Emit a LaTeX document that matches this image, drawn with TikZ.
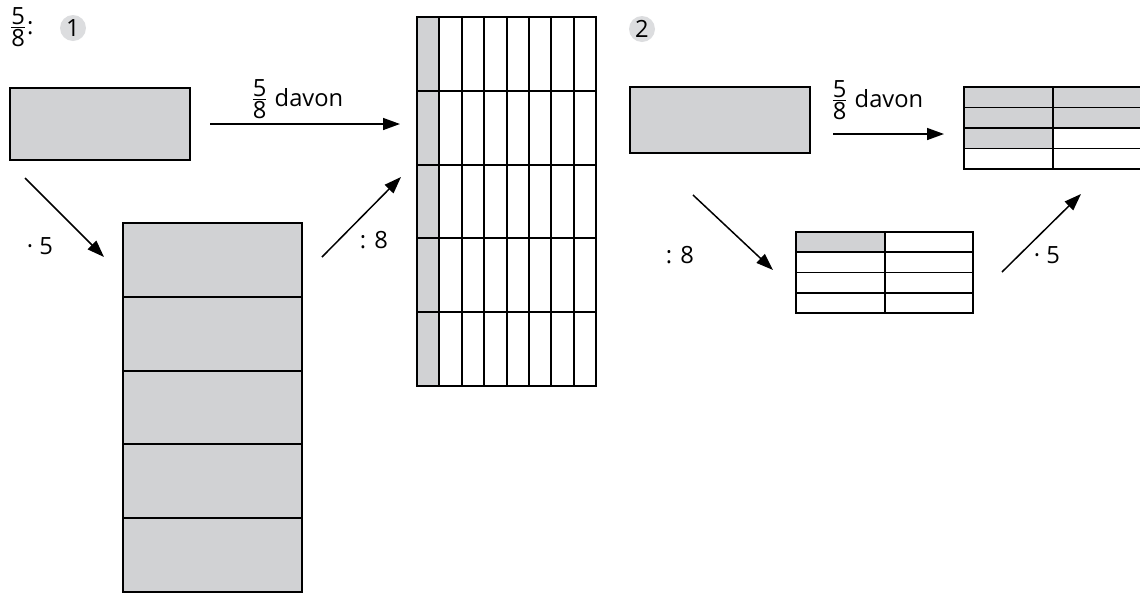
\documentclass[tikz,border=0pt,12pt]{standalone}
\usepackage{amsmath}
\usepackage{fontspec}
\setmainfont{Open Sans}
\usetikzlibrary{arrows.meta}
\definecolor{boxgrey}{HTML}{D1D2D4}
\definecolor{numgrey}{HTML}{DCDDDF}
% fraction with full-size digits
\newcommand{\frc}[2]{\ensuremath{\genfrac{}{}{0.5pt}{1}{\hbox{#1}}{\hbox{#2}}}}

\begin{document}
\begin{tikzpicture}[x=0.02cm,y=-0.02cm,font=\fontsize{13.5}{16}\selectfont,
    >={Triangle[length=3.4mm,width=2.4mm]},
    box/.style={draw,line width=1.1pt},
    arr/.style={->,line width=0.85pt},
    num/.style={circle,fill=numgrey,minimum size=0.52cm,inner sep=0pt}]
  \useasboundingbox (0,0) rectangle (1140,593);
  % --- headings ---
  \node[anchor=west,inner sep=0pt] (frac) at (9,27) {\frc58:};
  \node[num] (n1) at (73,28) {1};
  \node[num] (n2) at (642,29) {2};
  % --- way 1 ---
  \filldraw[box,fill=boxgrey] (10,88) rectangle (190,160);
  % tall strip, five parts
  \filldraw[box,fill=boxgrey] (123,223) rectangle (302,592);
  \foreach \r in {1,...,4} \draw[box] (123,223+73.8*\r) -- (302,223+73.8*\r);
  % 8 x 5 grid, first column shaded
  \fill[boxgrey] (417,17) rectangle (439.4,386);
  \foreach \c in {1,...,7} \draw[box] (417+22.4*\c,17) -- (417+22.4*\c,386);
  \foreach \r in {1,...,4} \draw[box] (417,17+73.8*\r) -- (596,17+73.8*\r);
  \draw[box] (417,17) rectangle (596,386);
  % arrows
  \coordinate (a1s) at (210,124); \coordinate (a1e) at (400,124);
  \coordinate (b1s) at (25,178);  \coordinate (b1e) at (104,257);
  \coordinate (c1s) at (322,257); \coordinate (c1e) at (401,177);
  \draw[arr] (a1s) -- (a1e);
  \draw[arr] (b1s) -- (b1e);
  \draw[arr] (c1s) -- (c1e);
  \node (l1) at (297,99) {\frc58 davon};
  \node (l2) at (40,246) {· 5};
  \node (l3) at (374,240) {: 8};
  % --- way 2 ---
  \filldraw[box,fill=boxgrey] (630,87) rectangle (810,153);
  % small table, one of eight shaded
  \fill[boxgrey] (796,232) rectangle (885,252.3);
  \foreach \r in {1,2,3} \draw[box] (796,232+20.25*\r) -- (973,232+20.25*\r);
  \draw[box] (885,232) -- (885,313);
  \draw[box] (796,232) rectangle (973,313);
  % result table, five of eight shaded
  \fill[boxgrey] (964,87) rectangle (1141,128);
  \fill[boxgrey] (964,128) rectangle (1053,148.5);
  \foreach \r in {1,2,3} \draw[box] (964,87+20.5*\r) -- (1141,87+20.5*\r);
  \draw[box] (1053,87) -- (1053,169);
  \draw[box] (964,87) rectangle (1141,169);
  % arrows
  \coordinate (a2s) at (833,134);  \coordinate (a2e) at (944,134);
  \coordinate (b2s) at (693,195);  \coordinate (b2e) at (773,270);
  \coordinate (c2s) at (1002,272); \coordinate (c2e) at (1081,194);
  \draw[arr] (a2s) -- (a2e);
  \draw[arr] (b2s) -- (b2e);
  \draw[arr] (c2s) -- (c2e);
  \node (l4) at (877,100) {\frc58 davon};
  \node (l5) at (680,255) {: 8};
  \node (l6) at (1047,255) {· 5};
\end{tikzpicture}
\end{document}
